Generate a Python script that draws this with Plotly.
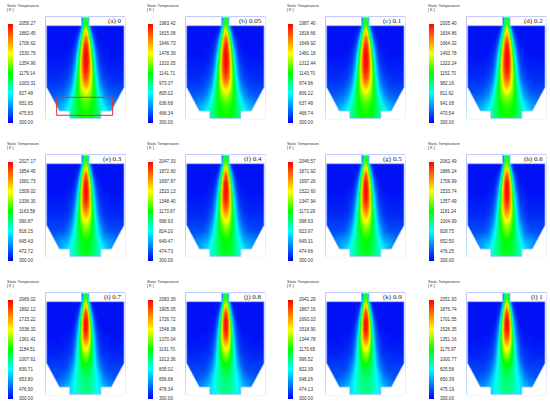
import numpy as np
import plotly.graph_objects as go

W, H = 550, 405

# panel captions (equivalence ratio / blend fraction)
panel_labels = ['(a) 0', '(b) 0.05', '(c) 0.1', '(d) 0.2',
                '(e) 0.3', '(f) 0.4', '(g) 0.5', '(h) 0.6',
                '(i) 0.7', '(j) 0.8', '(k) 0.9', '(l) 1']

# colour bar tick labels, top to bottom, as printed
ticks_a = ['2058.27', '1882.45', '1706.62', '1530.79', '1354.96', '1179.14', '1003.31', '827.48', '651.65', '475.83', '300.00']
ticks_b = ['1983.42', '1815.08', '1646.73', '1478.39', '1310.05', '1141.71', '973.37', '805.02', '636.68', '468.34', '300.00']
ticks_c = ['1987.40', '1818.66', '1649.92', '1481.18', '1312.44', '1143.70', '974.96', '806.22', '637.48', '468.74', '300.00']
ticks_d = ['2005.40', '1834.86', '1664.32', '1493.78', '1323.24', '1152.70', '982.16', '811.62', '641.08', '470.54', '300.00']
ticks_e = ['2027.17', '1854.45', '1681.73', '1509.02', '1336.30', '1163.58', '990.87', '818.15', '645.43', '472.72', '300.00']
ticks_f = ['2047.33', '1872.60', '1697.87', '1523.13', '1348.40', '1173.67', '998.93', '824.20', '649.47', '474.73', '300.00']
ticks_g = ['2046.57', '1871.92', '1697.26', '1522.60', '1347.94', '1173.29', '998.63', '823.97', '649.31', '474.66', '300.00']
ticks_h = ['2062.49', '1886.24', '1709.99', '1533.74', '1357.49', '1181.24', '1004.99', '828.75', '652.50', '476.25', '300.00']
ticks_i = ['2069.02', '1892.12', '1715.22', '1538.32', '1361.41', '1184.51', '1007.61', '830.71', '653.80', '476.90', '300.00']
ticks_j = ['2083.39', '1905.05', '1726.72', '1548.38', '1370.04', '1191.70', '1013.36', '835.02', '656.68', '478.34', '300.00']
ticks_k = ['2041.29', '1867.16', '1693.03', '1518.90', '1344.78', '1170.65', '996.52', '822.39', '648.26', '474.13', '300.00']
ticks_l = ['2051.93', '1876.74', '1701.55', '1526.35', '1351.16', '1175.97', '1000.77', '825.58', '650.39', '475.19', '300.00']
all_ticks = [ticks_a, ticks_b, ticks_c, ticks_d, ticks_e, ticks_f,
             ticks_g, ticks_h, ticks_i, ticks_j, ticks_k, ticks_l]

# temperature field, read off the contours as fraction of (Tmax - 300)
# rows = depth below the burner inlet, cols = distance from the axis (half furnace)
depth = [0, 5, 9, 14, 20, 28, 36, 44, 52, 60, 68, 76, 84, 92, 101]
half_x = [0, 2, 4, 6, 8, 11, 14, 18, 23, 29, 35, 39]

field_early = [  # (a)-(d)
    [0.50, 0.35, 0.05, 0.02, 0.02, 0.02, 0.02, 0.02, 0.02, 0.02, 0.02, 0.02],
    [0.58, 0.42, 0.08, 0.02, 0.02, 0.02, 0.02, 0.02, 0.02, 0.02, 0.02, 0.02],
    [0.66, 0.50, 0.18, 0.05, 0.02, 0.02, 0.02, 0.02, 0.02, 0.02, 0.02, 0.02],
    [0.76, 0.62, 0.32, 0.11, 0.04, 0.02, 0.02, 0.02, 0.02, 0.02, 0.02, 0.02],
    [0.88, 0.79, 0.50, 0.24, 0.09, 0.03, 0.02, 0.02, 0.02, 0.02, 0.02, 0.02],
    [0.97, 0.91, 0.67, 0.40, 0.19, 0.06, 0.03, 0.02, 0.02, 0.02, 0.02, 0.02],
    [1.00, 0.96, 0.78, 0.52, 0.29, 0.11, 0.05, 0.03, 0.02, 0.02, 0.02, 0.02],
    [1.00, 0.97, 0.82, 0.59, 0.37, 0.16, 0.07, 0.04, 0.03, 0.03, 0.03, 0.03],
    [0.98, 0.94, 0.82, 0.63, 0.44, 0.22, 0.10, 0.06, 0.04, 0.04, 0.04, 0.04],
    [0.92, 0.88, 0.77, 0.62, 0.48, 0.28, 0.14, 0.08, 0.06, 0.05, 0.05, 0.05],
    [0.80, 0.77, 0.70, 0.60, 0.50, 0.34, 0.20, 0.12, 0.08, 0.07, 0.07, 0.07],
    [0.67, 0.65, 0.61, 0.56, 0.50, 0.39, 0.27, 0.17, 0.12, 0.10, 0.10, 0.10],
    [0.57, 0.56, 0.54, 0.52, 0.48, 0.41, 0.34, 0.24, 0.18, 0.15, 0.14, 0.14],
    [0.52, 0.52, 0.51, 0.49, 0.47, 0.43, 0.38, 0.31, 0.24, 0.20, 0.19, 0.19],
    [0.51, 0.51, 0.50, 0.48, 0.46, 0.42, 0.37, 0.32, 0.27, 0.23, 0.22, 0.22],
]
field_mid = [  # (e)-(h)
    [0.50, 0.35, 0.05, 0.02, 0.02, 0.02, 0.02, 0.02, 0.02, 0.02, 0.02, 0.02],
    [0.58, 0.42, 0.08, 0.02, 0.02, 0.02, 0.02, 0.02, 0.02, 0.02, 0.02, 0.02],
    [0.68, 0.52, 0.18, 0.05, 0.02, 0.02, 0.02, 0.02, 0.02, 0.02, 0.02, 0.02],
    [0.80, 0.66, 0.32, 0.10, 0.03, 0.02, 0.02, 0.02, 0.02, 0.02, 0.02, 0.02],
    [0.92, 0.82, 0.50, 0.22, 0.08, 0.03, 0.02, 0.02, 0.02, 0.02, 0.02, 0.02],
    [1.00, 0.93, 0.66, 0.36, 0.16, 0.05, 0.03, 0.02, 0.02, 0.02, 0.02, 0.02],
    [1.00, 0.95, 0.75, 0.46, 0.24, 0.09, 0.04, 0.03, 0.02, 0.02, 0.02, 0.02],
    [0.98, 0.93, 0.77, 0.52, 0.31, 0.13, 0.06, 0.04, 0.03, 0.03, 0.03, 0.03],
    [0.90, 0.86, 0.74, 0.55, 0.37, 0.18, 0.09, 0.05, 0.04, 0.04, 0.04, 0.04],
    [0.78, 0.76, 0.67, 0.54, 0.41, 0.23, 0.12, 0.07, 0.05, 0.05, 0.05, 0.05],
    [0.66, 0.64, 0.59, 0.51, 0.43, 0.28, 0.17, 0.10, 0.07, 0.07, 0.07, 0.07],
    [0.57, 0.56, 0.53, 0.48, 0.43, 0.33, 0.23, 0.14, 0.10, 0.09, 0.09, 0.09],
    [0.51, 0.50, 0.48, 0.46, 0.42, 0.36, 0.29, 0.20, 0.18, 0.15, 0.12, 0.12],
    [0.48, 0.48, 0.47, 0.45, 0.42, 0.38, 0.33, 0.27, 0.21, 0.18, 0.17, 0.17],
    [0.47, 0.47, 0.46, 0.44, 0.41, 0.37, 0.33, 0.29, 0.25, 0.22, 0.21, 0.21],
]
field_late = [  # (i)-(l)
    [0.50, 0.35, 0.05, 0.02, 0.02, 0.02, 0.02, 0.02, 0.02, 0.02, 0.02, 0.02],
    [0.60, 0.42, 0.08, 0.02, 0.02, 0.02, 0.02, 0.02, 0.02, 0.02, 0.02, 0.02],
    [0.70, 0.52, 0.17, 0.04, 0.02, 0.02, 0.02, 0.02, 0.02, 0.02, 0.02, 0.02],
    [0.84, 0.68, 0.30, 0.09, 0.03, 0.02, 0.02, 0.02, 0.02, 0.02, 0.02, 0.02],
    [0.95, 0.85, 0.48, 0.19, 0.06, 0.02, 0.02, 0.02, 0.02, 0.02, 0.02, 0.02],
    [1.00, 0.94, 0.63, 0.32, 0.13, 0.04, 0.02, 0.02, 0.02, 0.02, 0.02, 0.02],
    [1.00, 0.93, 0.69, 0.41, 0.20, 0.07, 0.03, 0.02, 0.02, 0.02, 0.02, 0.02],
    [0.90, 0.86, 0.68, 0.46, 0.26, 0.10, 0.05, 0.03, 0.03, 0.02, 0.02, 0.02],
    [0.76, 0.73, 0.62, 0.47, 0.31, 0.14, 0.07, 0.04, 0.03, 0.03, 0.03, 0.03],
    [0.63, 0.61, 0.55, 0.45, 0.34, 0.18, 0.09, 0.06, 0.05, 0.04, 0.04, 0.04],
    [0.53, 0.52, 0.48, 0.42, 0.35, 0.22, 0.13, 0.08, 0.06, 0.06, 0.06, 0.06],
    [0.46, 0.45, 0.43, 0.39, 0.35, 0.27, 0.18, 0.11, 0.08, 0.08, 0.08, 0.08],
    [0.42, 0.41, 0.40, 0.38, 0.35, 0.30, 0.24, 0.16, 0.12, 0.10, 0.10, 0.10],
    [0.40, 0.40, 0.39, 0.37, 0.35, 0.31, 0.27, 0.22, 0.17, 0.15, 0.14, 0.14],
    [0.39, 0.39, 0.38, 0.37, 0.34, 0.31, 0.27, 0.24, 0.20, 0.18, 0.17, 0.17],
]
panel_field = [field_early] * 4 + [field_mid] * 4 + [field_late] * 4

T_MIN = 300.0

# fluent-like rainbow
rainbow = [[0.0, 'rgb(0,0,245)'], [0.3, 'rgb(0,255,255)'], [0.5, 'rgb(0,255,0)'],
           [0.7, 'rgb(255,255,0)'], [1.0, 'rgb(255,0,0)']]

# furnace outline (half width, depth) in px
CH_W, BODY_W, SLANT_W, BOT_W = 3.7, 38.7, 26.0, 15.5
D_BODY, D_SLANT, D_LEDGE, D_BOT = 8.4, 70.0, 93.7, 101.0

col_off = [0, 140, 280, 421]
row_off = [0, 138, 276]

full_x = [-v for v in half_x[::-1]] + half_x[1:]
# y axis points up: use negative depth, bottom row first
y_up = [-d for d in depth[::-1]]

fig = go.Figure()
shapes = []
annotations = []


def pth(pts, s=1):
    return 'M ' + ' L '.join('%g,%g' % (s * px, -py) for px, py in pts) + ' Z'


for i in range(12):
    r, c = divmod(i, 4)
    xo, yo = col_off[c], row_off[r]
    n = i + 1
    xa = 'x' if n == 1 else 'x%d' % n
    ya = 'y' if n == 1 else 'y%d' % n

    ticks = all_ticks[i]
    tmax = float(ticks[0])
    frac = np.array(panel_field[i])[::-1]
    frac_full = np.hstack([frac[:, ::-1], frac[:, 1:]])
    temp = T_MIN + frac_full * (tmax - T_MIN)

    # colour bar geometry (px)
    cb_top, cb_len = 24 + yo, 98.7
    fig.add_trace(go.Heatmap(
        x=full_x, y=y_up, z=temp, xaxis=xa, yaxis=ya,
        zmin=T_MIN, zmax=tmax, colorscale=rainbow, zsmooth='best',
        hoverinfo='skip',
        colorbar=dict(
            x=(8 + xo) / W, xanchor='left', xpad=0,
            y=1 - (cb_top + cb_len / 2) / H, yanchor='middle', ypad=0,
            len=cb_len / H, lenmode='fraction',
            thickness=4.5, outlinewidth=0,
            tickvals=[float(t) for t in ticks], ticktext=ticks,
            ticks='outside', ticklen=5.5, tickcolor='rgba(0,0,0,0)',
            tickfont=dict(size=4.6, family='Liberation Sans', color='#333'),
        ),
    ))

    # furnace axes, 1 unit = 1 px
    cx = 85.35 + xo
    top = 17.3 + yo
    fig.layout['xaxis%d' % n if n > 1 else 'xaxis'] = dict(
        domain=[(cx - 40) / W, (cx + 40) / W], range=[-40, 40],
        visible=False, anchor=ya)
    fig.layout['yaxis%d' % n if n > 1 else 'yaxis'] = dict(
        domain=[1 - (top + 102) / H, 1 - (top - 1) / H], range=[-102, 1],
        visible=False, anchor=xa)

    # white masks outside the furnace
    mask = [(40, -1), (CH_W, -1), (CH_W, D_BODY), (BODY_W, D_BODY), (BODY_W, D_SLANT),
            (SLANT_W, D_LEDGE), (BOT_W, D_LEDGE), (BOT_W, 102), (40, 102)]
    for s in (-1, 1):
        shapes.append(dict(type='path', path=pth(mask, s), xref=xa, yref=ya,
                           fillcolor='white', line=dict(width=0)))
    shapes.append(dict(type='rect', x0=-CH_W, x1=CH_W, y0=1, y1=0, xref=xa, yref=ya,
                       fillcolor='white', line=dict(width=0)))
    shapes.append(dict(type='rect', x0=-BOT_W, x1=BOT_W, y0=-D_BOT, y1=-102, xref=xa, yref=ya,
                       fillcolor='white', line=dict(width=0)))
    outline = [(-CH_W, 0), (CH_W, 0), (CH_W, D_BODY), (BODY_W, D_BODY), (BODY_W, D_SLANT),
               (SLANT_W, D_LEDGE), (BOT_W, D_LEDGE), (BOT_W, D_BOT), (-BOT_W, D_BOT),
               (-BOT_W, D_LEDGE), (-SLANT_W, D_LEDGE), (-BODY_W, D_SLANT), (-BODY_W, D_BODY),
               (-CH_W, D_BODY)]
    shapes.append(dict(type='path', xref=xa, yref=ya, path=pth(outline),
                       fillcolor='rgba(0,0,0,0)',
                       line=dict(color='rgb(160,185,255)', width=0.8)))
    if i == 0:
        shapes.append(dict(type='rect', x0=-28.7, x1=27.3, y0=-80, y1=-98, xref=xa, yref=ya,
                           line=dict(color='rgb(235,45,45)', width=1)))

    lab_font = dict(size=3.8, family='Liberation Sans', color='#333')
    annotations += [
        dict(x=(5.3 + xo) / W, y=1 - (6 + yo) / H, text='Static Temperature',
             xref='paper', yref='paper', xanchor='left', yanchor='middle',
             showarrow=False, font=lab_font),
        dict(x=(5.3 + xo) / W, y=1 - (10.3 + yo) / H, text='[ K ]',
             xref='paper', yref='paper', xanchor='left', yanchor='middle',
             showarrow=False, font=lab_font),
        dict(x=(124 + xo) / W, y=1 - (20.7 + yo) / H, text=panel_labels[i],
             xref='paper', yref='paper', xanchor='right', yanchor='middle',
             showarrow=False, font=dict(size=7, family='Liberation Serif', color='#222')),
    ]

fig.update_layout(width=W, height=H, margin=dict(l=0, r=0, t=0, b=0),
                  paper_bgcolor='white', plot_bgcolor='white',
                  shapes=shapes, annotations=annotations, showlegend=False)

# the browser's default 8px body margin would push the figure off the window
fig.write_html("out.html", config={'displayModeBar': False},
               post_script="document.body.style.margin='0';")
